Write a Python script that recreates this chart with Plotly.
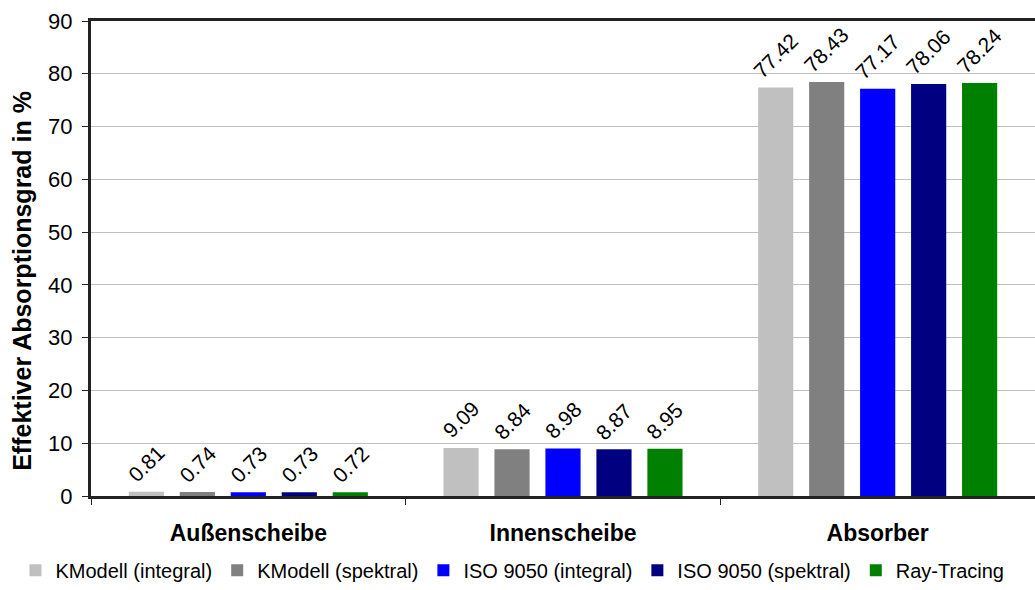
import plotly.graph_objects as go

categories = ["Außenscheibe", "Innenscheibe", "Absorber"]
series_names = ["KModell (integral)", "KModell (spektral)", "ISO 9050 (integral)",
                "ISO 9050 (spektral)", "Ray-Tracing"]
kmodell_integral = [0.81, 9.09, 77.42]
kmodell_spektral = [0.74, 8.84, 78.43]
iso_integral = [0.73, 8.98, 77.17]
iso_spektral = [0.73, 8.87, 78.06]
ray_tracing = [0.72, 8.95, 78.24]
colors = ["#C0C0C0", "#808080", "#0000FF", "#000080", "#008000"]
y_ticks = [0, 10, 20, 30, 40, 50, 60, 70, 80, 90]
y_title = "Effektiver Absorptionsgrad in %"

series_values = [kmodell_integral, kmodell_spektral, iso_integral, iso_spektral, ray_tracing]
FONT = "Liberation Sans, Arial, sans-serif"
BARGAP = 0.19
n_series = len(series_values)
slot = (1 - BARGAP) / n_series

fig = go.Figure()
for name, vals, col in zip(series_names, series_values, colors):
    fig.add_trace(go.Bar(
        x=categories, y=vals, name=name, marker_color=col, marker_line_width=0,
    ))

# rotated value labels, positioned on the category axis at each bar's group offset
for si, vals in enumerate(series_values):
    off = (si - (n_series - 1) / 2) * slot
    for ci, v in enumerate(vals):
        fig.add_annotation(
            x=ci + off, y=v, xref="x", yref="y", text=f"{v:.2f}",
            textangle=-45, showarrow=False, xanchor="center", yanchor="bottom",
            yshift=4, borderpad=0, font=dict(family=FONT, size=21, color="black"),
        )

fig.add_annotation(
    x=-0.0731, y=0.453, xref="paper", yref="paper", text=f"<b>{y_title}</b>",
    textangle=-90, showarrow=False, xanchor="center", yanchor="middle",
    font=dict(family=FONT, size=25, color="black"),
)

fig.update_layout(
    width=1035, height=590,
    paper_bgcolor="white", plot_bgcolor="white",
    margin=dict(l=91, r=0, t=21, b=92),
    barmode="group", bargap=BARGAP, bargroupgap=0.31,
    font=dict(family=FONT, size=21, color="black"),
    showlegend=True,
    legend=dict(orientation="h", x=-0.080, xanchor="left", y=-0.115, yanchor="top",
                font=dict(size=20), itemwidth=30, traceorder="normal"),
)
fig.update_xaxes(
    showline=True, linecolor="#222", linewidth=3, mirror=True,
    ticks="outside", tickson="boundaries", ticklen=6, tickcolor="#222",
    tickfont=dict(size=23, family=FONT, weight="bold"), showgrid=False,
    range=[-0.5, 2.5], ticklabelstandoff=14,
)
fig.update_yaxes(
    range=[0, 90], tickvals=y_ticks, showgrid=True, gridcolor="#C0C0C0", gridwidth=1,
    showline=True, linecolor="#222", linewidth=3, ticks="outside", ticklen=6,
    tickcolor="#222", tickfont=dict(size=22), zeroline=False, ticklabelstandoff=5,
)
fig.write_html(
    "out.html",
    config={"displayModeBar": False},
    post_script="document.body.style.margin='0';document.body.style.padding='0';",
)
